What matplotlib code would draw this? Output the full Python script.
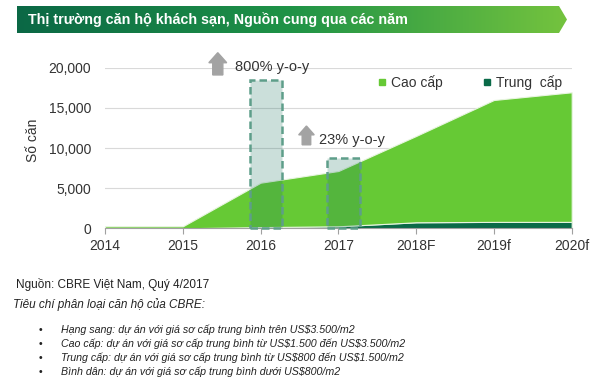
import numpy as np
import matplotlib
matplotlib.use('Agg')
import matplotlib.pyplot as plt
from matplotlib.patches import Rectangle, Polygon
from matplotlib.lines import Line2D
from matplotlib.colors import LinearSegmentedColormap
from matplotlib.ticker import FuncFormatter

plt.rcParams['font.family'] = ['Liberation Sans', 'DejaVu Sans']

# Data
years = ['2014', '2015', '2016', '2017', '2018F', '2019f', '2020f']
trung_cap = [0, 0, 150, 250, 750, 800, 800]
cao_cap = [250, 250, 5530, 6885, 10750, 15180, 16140]

# highlighted years (dashed boxes) and their growth notes
box_idx = [2, 3]
box_top = [18500, 8800]
growth_labels = ['800% y-o-y', '23% y-o-y']
arrow_x = [1.45, 2.59]
arrow_base = [19100, 10400]
arrow_tip = [21870, 12740]
label_x = [1.667, 2.747]
label_y = [20100, 10980]

title = 'Thị trường căn hộ khách sạn, Nguồn cung qua các năm'
source = 'Nguồn: CBRE Việt Nam, Quý 4/2017'
criteria = 'Tiêu chí phân loại căn hộ của CBRE:'
bullets = [
    'Hạng sang: dự án với giá sơ cấp trung bình trên US$3.500/m2',
    'Cao cấp: dự án với giá sơ cấp trung bình từ US$1.500 đến US$3.500/m2',
    'Trung cấp: dự án với giá sơ cấp trung bình từ US$800 đến US$1.500/m2',
    'Bình dân: dự án với giá sơ cấp trung bình dưới US$800/m2',
]

light_green = '#66C935'
dark_green = '#0A6A48'

fig = plt.figure(figsize=(6, 3.83), dpi=100)
ax = fig.add_axes([0.175, 0.4039, 0.7778, 0.4193])

x = np.arange(len(years))
ax.stackplot(x, trung_cap, cao_cap, colors=[dark_green, light_green],
             edgecolor='#e8f5e0', linewidth=0.8, zorder=2)

# dashed highlight boxes
for i, top in zip(box_idx, box_top):
    ax.add_patch(Rectangle((i - 0.14, 0), 0.415, top,
                           facecolor=(20/255, 110/255, 90/255, 0.22),
                           edgecolor='#5E9E8A', linewidth=1.8,
                           linestyle=(0, (3, 1.6)), zorder=3, clip_on=False))

# grey arrows + labels
heads = [(0.23, 0.13, 1250), (0.2, 0.11, 1100)]
for ax_x, b, t, (hw, w, hl) in zip(arrow_x, arrow_base, arrow_tip, heads):
    ax.arrow(ax_x, b, 0, t - b, width=w, head_width=hw, head_length=hl,
             length_includes_head=True, color='#A3A3A3', clip_on=False, zorder=4)
for lx, ly, txt in zip(label_x, label_y, growth_labels):
    ax.text(lx, ly, txt, ha='left', va='center', fontsize=10.5, color='#333333', zorder=5)

ax.set_xlim(0, 6)
ax.set_ylim(0, 20000)
ax.set_yticks([0, 5000, 10000, 15000, 20000])
ax.yaxis.set_major_formatter(FuncFormatter(lambda v, p: f'{int(v):,}'))
ax.set_xticks(x, years)
ax.grid(axis='y', color='#d9d9d9', linewidth=0.8, zorder=0)
ax.set_axisbelow(True)
for s in ['top', 'right', 'left']:
    ax.spines[s].set_visible(False)
ax.spines['bottom'].set_color('#a0a0a0')
ax.tick_params(axis='y', length=0, labelsize=10, labelcolor='#333333', pad=10)
ax.tick_params(axis='x', length=4, color='#a0a0a0', labelsize=10, labelcolor='#333333', pad=4)
ax.text(-0.154, 0.55, 'Số căn', transform=ax.transAxes, rotation=90,
        ha='center', va='center', fontsize=10, color='#333333')

handles = [Line2D([], [], marker='s', linestyle='none', markersize=5, color=light_green),
           Line2D([], [], marker='s', linestyle='none', markersize=5, color=dark_green)]
ax.legend(handles, ['Cao cấp', 'Trung  cấp'], ncol=2, loc='center right',
          bbox_to_anchor=(0.995, 0.91), frameon=False, fontsize=10,
          handlelength=0.6, handletextpad=0.35, columnspacing=2.9, borderpad=0,
          labelcolor='#333333')

# decoration layer in pixel coordinates
deco = fig.add_axes([0, 0, 1, 1], zorder=-1)
deco.set_xlim(0, 600)
deco.set_ylim(383, 0)
deco.axis('off')

cmap = LinearSegmentedColormap.from_list('banner', ['#0B6845', '#1F9347', '#74C33E'])
grad = np.linspace(0, 1, 256).reshape(1, -1)
img = deco.imshow(grad, cmap=cmap, extent=[17, 567, 33, 6], aspect='auto', zorder=1)
banner = Polygon([(17, 6), (559, 6), (567, 19.5), (559, 33), (17, 33)],
                 closed=True, facecolor='none', edgecolor='none')
deco.add_patch(banner)
img.set_clip_path(banner)
deco.text(28, 19.5, title, color='white', fontsize=10.3, fontweight='bold',
          ha='left', va='center')

deco.text(16.5, 284.5, source, fontsize=8.5, color='#222222', ha='left', va='center')
deco.text(13, 305, criteria, fontsize=8.5, color='#222222', style='italic',
          ha='left', va='center')
for k, b in enumerate(bullets):
    yy = 330 + k * 13.9
    deco.text(40, yy, '•', fontsize=7.5, color='#222222', ha='center', va='center')
    # escape dollar signs so they are not parsed as mathtext
    deco.text(61, yy, b.replace('$', r'\$'), fontsize=7.7, color='#222222',
              style='italic', ha='left', va='center')

fig.savefig('out.png', dpi=100)
